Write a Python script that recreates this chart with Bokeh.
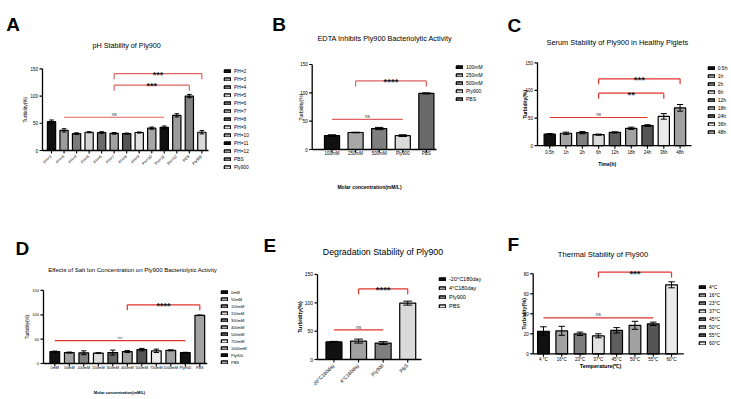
import numpy as np
from math import pi

from bokeh.core.properties import value
from bokeh.embed import file_html
from bokeh.layouts import column, row
from bokeh.models import ColumnDataSource, Legend, LegendItem, Range1d
from bokeh.plotting import figure
from bokeh.resources import INLINE

FONT = "Liberation Sans"

# ---------------- data ----------------
# A: pH stability
ph_groups = ["PH=2", "PH=3", "PH=4", "PH=5", "PH=6", "PH=7", "PH=8", "PH=9",
             "PH=10", "PH=11", "PH=12", "PBS", "Ply900"]
ph_turbidity = [53, 37, 31, 33.5, 33, 31.5, 31, 33, 41, 42.5, 64.5, 100, 33.5]
ph_sd = [3, 3, 1.5, 1, 1.5, 1.5, 1, 1, 2, 2.5, 3, 3, 3]
ph_sig = [(1, 9, 61, "ns"), (5, 11, 120, "***"), (5, 12, 141, "***")]

# B: EDTA inhibition
edta_groups = ["100mM", "250mM", "500mM", "Ply900", "PBS"]
edta_turbidity = [24.5, 30, 37, 24.5, 99]
edta_sd = [1.5, 0.5, 2, 1.5, 1]
edta_sig = [(0, 3, 53, "ns"), (1, 4, 121, "****")]

# C: serum stability
serum_groups = ["0.5h", "1h", "2h", "6h", "12h", "18h", "24h", "36h", "48h"]
serum_turbidity = [21, 22.5, 23.5, 20, 24, 31.5, 36.5, 53, 68.5]
serum_sd = [1, 2, 2, 1, 1, 2, 1.5, 5, 6]
serum_sig = [(0, 6, 51, "ns"), (3, 7, 95, "**"), (3, 8, 121, "***")]

# D: salt ion concentration
salt_groups = ["0mM", "50mM", "100mM", "150mM", "300mM", "400mM", "500mM",
               "750mM", "1000mM", "Ply900", "PBS"]
salt_turbidity = [24.5, 22.5, 22, 21.5, 22.5, 24.5, 28.5, 26, 27, 22.5, 99]
salt_sd = [1, 1, 4, 0.5, 5, 2, 2.5, 3.5, 1, 0.5, 0.5]
salt_sig = [(0, 9, 47, "ns"), (5, 10, 120.4, "****")]

# E: degradation stability
deg_groups = ["-20°C180day", "4°C180day", "Ply900", "PBS"]
deg_turbidity = [31, 32.5, 29, 99.5]
deg_sd = [1, 3.5, 2.5, 3.5]
deg_sig = [(0, 2, 52.4, "ns"), (1, 3, 124.7, "****")]

# F: thermal stability
temp_groups = ["4°C", "16°C", "23°C", "37°C", "45°C", "50°C", "55°C", "60°C"]
temp_ticks = ["4 °C", "16°C", "23°C", "37°C", "45°C", "50°C", "55°C", "60°C"]
temp_turbidity = [22.5, 23, 20, 18, 23.5, 28.5, 30, 69]
temp_sd = [4.5, 4.5, 1.7, 2, 2.7, 4, 1.7, 3]
temp_sig = [(0, 6, 36, "ns"), (3, 7, 81.7, "***")]

# ---------------- bar fills ----------------
ph_fills = ["#111111", "#9c9c9c", "#7a7a7a", "#d4d4d4", "#6a6a6a", "#a2a2a2", "#555555",
            "#e2e2e2", "#a6a6a6", "#111111", "#9c9c9c", "#828282", "#dadada"]
edta_fills = ["#111111", "#a8a8a8", "#7f7f7f", "#dadada", "#6a6a6a"]
serum_fills = ["#111111", "#a2a2a2", "#7f7f7f", "#dadada", "#5f5f5f", "#a2a2a2",
               "#555555", "#eaeaea", "#a2a2a2"]
salt_fills = ["#111111", "#a2a2a2", "#7f7f7f", "#dadada", "#666666", "#a2a2a2",
              "#555555", "#eaeaea", "#a2a2a2", "#111111", "#a2a2a2"]
deg_fills = ["#111111", "#a2a2a2", "#7f7f7f", "#dadada"]
temp_fills = ["#111111", "#a2a2a2", "#7f7f7f", "#e2e2e2", "#5f5f5f", "#a2a2a2",
              "#555555", "#eaeaea"]

SOFT_RED = "#e06262"
RED = "#e2332e"
TICK = 3  # tick length in pixels


def txt(p, x, y, s, size, **kw):
    p.text(x=x, y=y, text=s, text_font=value(FONT), text_font_size=size,
           text_color=kw.pop("color", "black"), **kw)


def bar_panel(groups, means, sds, fills, ticks, sig, g):
    W, H = g["size"]
    fl, fr, fb = g["fl"], g["fr"], g["fb"]
    xr0, xr1 = g["xr"]
    ppu = g["ppu"]
    ppx = (fr - fl) / (xr1 - xr0)
    n = len(groups)

    # the data ranges span the whole canvas, so axes, titles and legend all live in the plot area
    p = figure(width=W, height=H, output_backend="svg", toolbar_location=None,
               x_range=Range1d(xr0 - fl / ppx, xr0 + (W - fl) / ppx),
               y_range=Range1d(-(H - fb) / ppu, fb / ppu),
               x_axis_location=None, y_axis_location=None, min_border=0)
    p.outline_line_color = None
    p.grid.visible = False
    p.background_fill_color = "white"
    p.border_fill_color = "white"

    def dx(px):
        return xr0 + (px - fl) / ppx

    def dy(py):
        return (fb - py) / ppu

    # bars with SD error bars
    x = np.arange(n, dtype=float)
    m = np.asarray(means, dtype=float)
    s = np.asarray(sds, dtype=float)
    bw = g["bw"]
    cw = bw * 0.55
    src = ColumnDataSource(dict(x=x, top=m, fill=fills, lo=m - s, hi=m + s,
                                cl=x - cw / 2, cr=x + cw / 2))
    bars = p.vbar(x="x", top="top", width=bw, fill_color="fill", line_color="black",
                  line_width=1.2, source=src)
    p.segment(x0="x", y0="lo", x1="x", y1="hi", source=src, line_color="black", line_width=1)
    p.segment(x0="cl", y0="hi", x1="cr", y1="hi", source=src, line_color="black", line_width=1)
    p.segment(x0="cl", y0="lo", x1="cr", y1="lo", source=src, line_color="black", line_width=1)

    # y axis
    ymax = g["ymax"]
    yt = g["yticks"]
    p.segment(x0=[xr0], y0=[0], x1=[xr0], y1=[ymax], line_color="black", line_width=1.3)
    p.segment(x0=[xr0 - TICK / ppx] * len(yt), y0=yt, x1=[xr0] * len(yt), y1=yt,
              line_color="black", line_width=1.2)
    txt(p, [xr0] * len(yt), yt, [str(t) for t in yt], g["ytick_fs"],
        text_align="right", text_baseline="middle", x_offset=-(TICK + 1.5))
    txt(p, [dx(g["ylab_x"])], [ymax / 2], ["Turbidity(%)"], g["ylab_fs"],
        angle=pi / 2, text_align="center", text_baseline="middle",
        text_font_style="bold" if g["ylab_bold"] else "normal")

    # x axis
    p.segment(x0=[xr0], y0=[0], x1=[xr1], y1=[0], line_color="black", line_width=1.3)
    p.segment(x0=x, y0=np.zeros(n), x1=x, y1=np.full(n, -TICK / ppu),
              line_color="black", line_width=1.1)
    if g.get("xrot"):
        txt(p, x, np.zeros(n), ticks, g["xtick_fs"], angle=pi / 4,
            text_align="right", text_baseline="middle", x_offset=-0.5, y_offset=TICK + 2)
    else:
        txt(p, x, np.full(n, dy(g["xtick_y"])), ticks, g["xtick_fs"],
            text_align="center", text_baseline="middle")
    if g.get("xlab"):
        cx, cy = g["xlab_xy"]
        txt(p, [dx(cx)], [dy(cy)], [g["xlab"]], g["xlab_fs"], text_align="center",
            text_baseline="middle", text_font_style="bold")

    # significance brackets
    line_c = g["sig_color"]
    leg_len = 5.5 / ppu
    for i, j, yv, t in sig:
        p.segment(x0=[i], y0=[yv], x1=[j], y1=[yv], line_color=line_c, line_width=1.2)
        if t == "ns":
            txt(p, [(i + j) / 2], [yv], [t], g["ns_fs"], color="#333333",
                text_align="center", text_baseline="alphabetic", y_offset=-3)
        else:
            p.segment(x0=[i, j], y0=[yv, yv], x1=[i, j], y1=[yv - leg_len, yv - leg_len],
                      line_color=line_c, line_width=1.2)
            txt(p, [(i + j) / 2], [yv], [t], g["star_fs"], color="#1a1a1a",
                text_align="center", text_baseline="alphabetic", y_offset=1,
                text_font_style="bold")

    # title and panel letter
    txt(p, [dx(g["title_left"])], [dy(g["title_cy"])], [g["title"]], f'{g["title_fs"]}px',
        text_align="left", text_baseline="middle")
    lx, ly = g["letter_xy"]
    txt(p, [dx(lx)], [dy(ly)], [g["letter"]], "19px", text_align="left",
        text_baseline="alphabetic", text_font_style="bold")

    # legend
    lg = g["leg"]
    lh, sp = lg["lh"], lg["sp"]
    h = n * lh + (n - 1) * sp
    mid = lg["first"] + (n - 1) * lg["pitch"] / 2
    top = mid - h / 2
    items = [LegendItem(label=lab, renderers=[bars], index=i) for i, lab in enumerate(groups)]
    legend = Legend(items=items, location=(lg["left"], H - top - h),
                    padding=0, margin=0, spacing=sp, label_height=lh,
                    glyph_width=8, glyph_height=4, label_standoff=3,
                    label_text_font=FONT, label_text_font_size=lg["fs"],
                    label_text_color="black",
                    border_line_color=None, background_fill_alpha=0)
    p.add_layout(legend)
    return p


pA = bar_panel(ph_groups, ph_turbidity, ph_sd, ph_fills, ph_groups, ph_sig, dict(
    size=(250, 200), fl=42, fr=208, fb=150, ppu=0.5447, xr=(-0.72, 12.53), bw=0.66,
    ymax=150, yticks=[0, 50, 100, 150], ytick_fs="4.5px", xtick_fs="4px", xrot=True,
    ylab_x=25, ylab_fs="4.8px", ylab_bold=False, ns_fs="4.7px", star_fs="9px",
    sig_color=SOFT_RED,
    title="pH Stability of Ply900", title_fs=7.2, title_left=92, title_cy=44.5,
    letter="A", letter_xy=(5.7, 24),
    leg=dict(left=223, first=71, pitch=8.06, fs="4.8px", lh=6, sp=2)))

pB = bar_panel(edta_groups, edta_turbidity, edta_sd, edta_fills, edta_groups, edta_sig, dict(
    size=(240, 200), fl=61.7, fr=186, fb=149, ppu=0.5667, xr=(-0.84, 4.43), bw=0.64,
    ymax=150, yticks=[0, 50, 100, 150], ytick_fs="4.5px", xtick_fs="4.5px", xtick_y=152.7,
    ylab_x=50, ylab_fs="5px", ylab_bold=False, ns_fs="4.7px", star_fs="9.5px",
    sig_color=SOFT_RED,
    xlab="Molar concentration(mM/L)", xlab_fs="5px", xlab_xy=(119, 186.7),
    title="EDTA Inhibits Ply900 Bacteriolytic Activity", title_fs=7.3, title_left=67,
    title_cy=38.3, letter="B", letter_xy=(21.7, 24),
    leg=dict(left=205, first=67.3, pitch=8.0, fs="5px", lh=6, sp=2)))

pC = bar_panel(serum_groups, serum_turbidity, serum_sd, serum_fills, serum_groups, serum_sig, dict(
    size=(241, 200), fl=47, fr=201, fb=145.2, ppu=0.5527, xr=(-0.75, 8.7), bw=0.69,
    ymax=150, yticks=[0, 50, 100, 150], ytick_fs="4.5px", xtick_fs="4.5px", xtick_y=152.3,
    ylab_x=34, ylab_fs="5px", ylab_bold=True, ns_fs="4.7px", star_fs="9.5px",
    sig_color=RED,
    xlab="Time(h)", xlab_fs="5px", xlab_xy=(116.7, 163.3),
    title="Serum Stability of Ply900 in Healthy Piglets", title_fs=7.4, title_left=56,
    title_cy=41.7, letter="C", letter_xy=(17, 25),
    leg=dict(left=216.7, first=66.7, pitch=8.2, fs="5px", lh=6, sp=2)))

pD = bar_panel(salt_groups, salt_turbidity, salt_sd, salt_fills, salt_groups, salt_sig, dict(
    size=(250, 199), fl=43, fr=206.7, fb=163, ppu=0.487, xr=(-0.78, 10.51), bw=0.67,
    ymax=150, yticks=[0, 50, 100, 150], ytick_fs="4px", xtick_fs="3.8px", xtick_y=167.3,
    ylab_x=26.7, ylab_fs="4.5px", ylab_bold=False, ns_fs="4.4px", star_fs="9px",
    sig_color=RED,
    xlab="Molar concentration(mM/L)", xlab_fs="4px", xlab_xy=(119, 192.3),
    title="Effects of Salt Ion Concentration on Ply900 Bacteriolytic Activity", title_fs=6,
    title_left=47.7, title_cy=69.3, letter="D", letter_xy=(15, 48),
    leg=dict(left=220, first=94, pitch=6.67, fs="4px", lh=5, sp=2)))

pE = bar_panel(deg_groups, deg_turbidity, deg_sd, deg_fills, deg_groups, deg_sig, dict(
    size=(240, 199), fl=67, fr=171, fb=159, ppu=0.5667, xr=(-0.67, 3.56), bw=0.65,
    ymax=150, yticks=[0, 50, 100, 150], ytick_fs="5px", xtick_fs="5px", xrot=True,
    ylab_x=49, ylab_fs="5.5px", ylab_bold=True, ns_fs="5px", star_fs="9.5px",
    sig_color=RED,
    title="Degradation Stability of Ply900", title_fs=8.8, title_left=72.3, title_cy=51.7,
    letter="E", letter_xy=(13, 45),
    leg=dict(left=188, first=79, pitch=8.7, fs="5.5px", lh=7, sp=2)))

pF = bar_panel(temp_groups, temp_turbidity, temp_sd, temp_fills, temp_ticks, temp_sig, dict(
    size=(241, 199), fl=42.7, fr=193.3, fb=153.3, ppu=1.0, xr=(-0.56, 7.67), bw=0.64,
    ymax=80, yticks=[0, 20, 40, 60, 80], ytick_fs="4.5px", xtick_fs="4.5px", xtick_y=159.3,
    ylab_x=33, ylab_fs="5.5px", ylab_bold=True, ns_fs="4.7px", star_fs="9.5px",
    sig_color=RED,
    xlab="Temperature(℃)", xlab_fs="5.5px", xlab_xy=(110, 165),
    title="Thermal Stability of Ply900", title_fs=7.6, title_left=67.3, title_cy=54,
    letter="F", letter_xy=(17, 44),
    leg=dict(left=208, first=86, pitch=8.3, fs="5px", lh=6, sp=2)))

layout = column(row(pA, pB, pC), row(pD, pE, pF))
open("out.html", "w").write(file_html(layout, INLINE))
